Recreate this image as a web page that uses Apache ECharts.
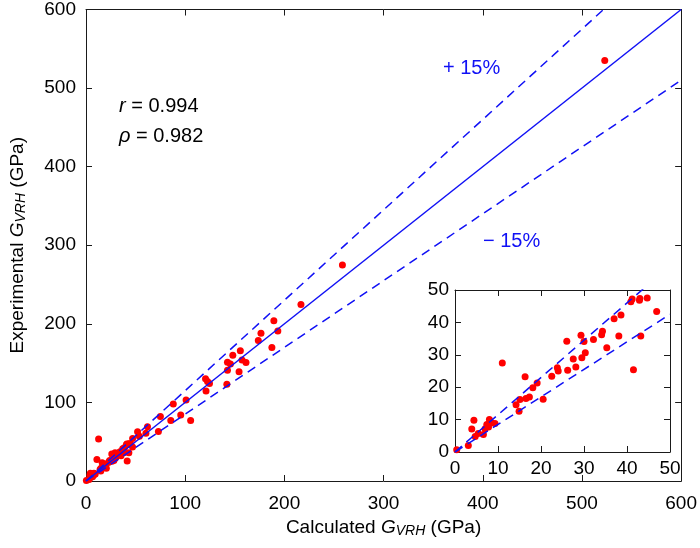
<!DOCTYPE html>
<html>
<head>
<meta charset="utf-8">
<script src="https://cdn.jsdelivr.net/npm/echarts@6/dist/echarts.min.js"></script>
<style>html,body{margin:0;padding:0;background:#fff;}#c{width:700px;height:548px;}</style>
</head>
<body>
<div id="c"></div>
<script>
// ---- data ----
// points with both values below 50 GPa (shown in main plot and inset)
var lowCalc = [0.4,3.1,4.4,3.9,4.7,5.4,6.6,7.0,7.4,8.0,8.5,9.3,7.8,11.0,14.2,14.9,15.1,16.3,16.5,17.3,18.1,19.1,20.5,22.5,23.8,24.0,26.0,26.2,27.5,28.1,29.3,29.5,30.0,30.3,32.2,34.1,34.3,35.3,37.0,38.6,38.1,40.9,41.2,41.5,42.9,43.0,43.2,44.7,46.9];
var lowExp  = [0.7,2.0,9.8,7.1,4.8,5.7,5.4,7.2,8.5,10.0,9.0,8.8,7.7,27.5,14.6,12.6,16.2,23.2,16.5,17.0,19.8,21.3,16.3,23.4,26.0,25.0,34.2,25.2,28.7,26.2,36.0,29.1,34.1,30.6,34.7,36.2,37.3,32.2,41.1,42.3,35.8,46.4,47.2,25.4,46.8,47.4,35.8,47.5,43.4];
// remaining points (main plot only)
var highCalc = [12.7,47,52,53.8,60.4,62,73,75,85.5,88,95.5,105.5,100.9,120.5,122.5,124.5,121,142,142.6,154.3,142.6,145.6,148,155.6,157.3,161.3,173.7,176.4,187.4,189.4,193.4,216.7,258.5,523];
var highExp  = [53.5,54,62.8,57,60.7,69,63,82,77,98,84,77,103,130,126.5,124,114.6,123.2,141,139,151,149,160,165.6,154,150.7,178.7,188,169.8,203.8,191,224.6,275,535];
var mainTicks = [0,100,200,300,400,500,600];
var insetTicks = [0,10,20,30,40,50];
var parityLine = 1;
var bandFactors = [1.15, 0.85];
var statR = 0.994, statRho = 0.982;

var FONT = '"Liberation Sans", Arial, Helvetica, sans-serif';
var BLUE = '#1010f5', RED = '#ff0000', AX = '#1a1a1a';

function pairs(a, b) { return a.map(function (v, i) { return [v, b[i]]; }); }
var mainPts = pairs(lowCalc, lowExp).concat(pairs(highCalc, highExp));
var insetPts = pairs(lowCalc, lowExp);
var mMax = mainTicks[mainTicks.length - 1], mInt = mainTicks[1] - mainTicks[0];
var iMax = insetTicks[insetTicks.length - 1], iInt = insetTicks[1] - insetTicks[0];

function axis(grid, pos, max, interval, labels, margin) {
  return {
    gridIndex: grid, type: 'value', position: pos, min: 0, max: max, interval: interval,
    axisLine: { show: true, onZero: false, lineStyle: { color: AX, width: 1 } },
    axisTick: { show: true, inside: true, length: 6, lineStyle: { color: AX, width: 1 } },
    axisLabel: { show: labels, margin: margin, color: '#000', fontSize: 19, fontFamily: FONT },
    splitLine: { show: false }
  };
}
var richName = {
  a: { fontSize: 19, fontFamily: FONT, color: '#000', lineHeight: 23 },
  b: { fontSize: 19, fontFamily: FONT, color: '#000', fontStyle: 'italic', lineHeight: 23 },
  c: { fontSize: 14, fontFamily: FONT, color: '#000', fontStyle: 'italic', padding: [8, 0, 0, 0] }
};

var xMain = axis(0, 'bottom', mMax, mInt, true, 13);
xMain.name = '{a|Calculated }{b|G}{c|VRH}{a| (GPa)}';
xMain.nameLocation = 'middle'; xMain.nameGap = 34;
xMain.nameTextStyle = { rich: richName };
var yMain = axis(0, 'left', mMax, mInt, true, 10);
yMain.name = '{a|Experimental }{b|G}{c|VRH}{a| (GPa)}';
yMain.nameLocation = 'middle'; yMain.nameGap = 57;
yMain.nameTextStyle = { rich: richName };

var series = [];
series.push({ type: 'scatter', xAxisIndex: 0, yAxisIndex: 0, data: mainPts, symbolSize: 7,
  itemStyle: { color: RED, opacity: 1 }, z: 2, silent: true });
series.push({ type: 'line', xAxisIndex: 0, yAxisIndex: 0, data: [[0, 0], [mMax, mMax * parityLine]],
  showSymbol: false, lineStyle: { color: BLUE, width: 1.5 }, z: 3, clip: true });
bandFactors.forEach(function (k) {
  series.push({ type: 'line', xAxisIndex: 0, yAxisIndex: 0, data: [[0, 0], [mMax, mMax * k]],
    showSymbol: false, lineStyle: { color: BLUE, width: 1.5, type: [9, 6] }, z: 3, clip: true });
});
series.push({ type: 'scatter', xAxisIndex: 2, yAxisIndex: 2, data: insetPts, symbolSize: 7,
  itemStyle: { color: RED, opacity: 1 }, z: 12, silent: true });
bandFactors.forEach(function (k) {
  series.push({ type: 'line', xAxisIndex: 2, yAxisIndex: 2, data: [[0, 0], [iMax, iMax * k]],
    showSymbol: false, lineStyle: { color: BLUE, width: 1.5, type: [9, 6] }, z: 13, clip: true });
});

var txt = function (x, y, text, color, rich) {
  return { type: 'text', left: x, top: y, z: 100,
    style: { text: text, fill: color, font: '20px ' + FONT, rich: rich || {} } };
};
var ital = { i: { fontStyle: 'italic', fontSize: 20, fontFamily: FONT, fill: '#000', color: '#000' } };

var option = {
  animation: false,
  backgroundColor: '#fff',
  grid: [
    { left: 83, top: 9, width: 599, height: 472 },
    { left: 455, top: 290, width: 215, height: 162, show: true, backgroundColor: '#fff', borderWidth: 0, z: 10 }
  ],
  xAxis: [
    xMain,
    axis(0, 'top', mMax, mInt, false, 8),
    Object.assign(axis(1, 'bottom', iMax, iInt, true, 7), { z: 11 }),
    Object.assign(axis(1, 'top', iMax, iInt, false, 8), { z: 11 })
  ],
  yAxis: [
    yMain,
    axis(0, 'right', mMax, mInt, false, 8),
    Object.assign(axis(1, 'left', iMax, iInt, true, 6), { z: 11 }),
    Object.assign(axis(1, 'right', iMax, iInt, false, 6), { z: 11 })
  ],
  series: series,
  graphic: [
    txt(119, 96, '{i|r} = ' + statR.toFixed(3), '#000', ital),
    txt(119, 126, '{i|ρ} = ' + statRho.toFixed(3), '#000', ital),
    txt(443, 58, '+ 15%', BLUE),
    txt(483, 231, '\u2212 15%', BLUE)
  ]
};
var chart = echarts.init(document.getElementById('c'), null, { renderer: 'canvas' });
chart.setOption(option);
</script>
</body>
</html>
